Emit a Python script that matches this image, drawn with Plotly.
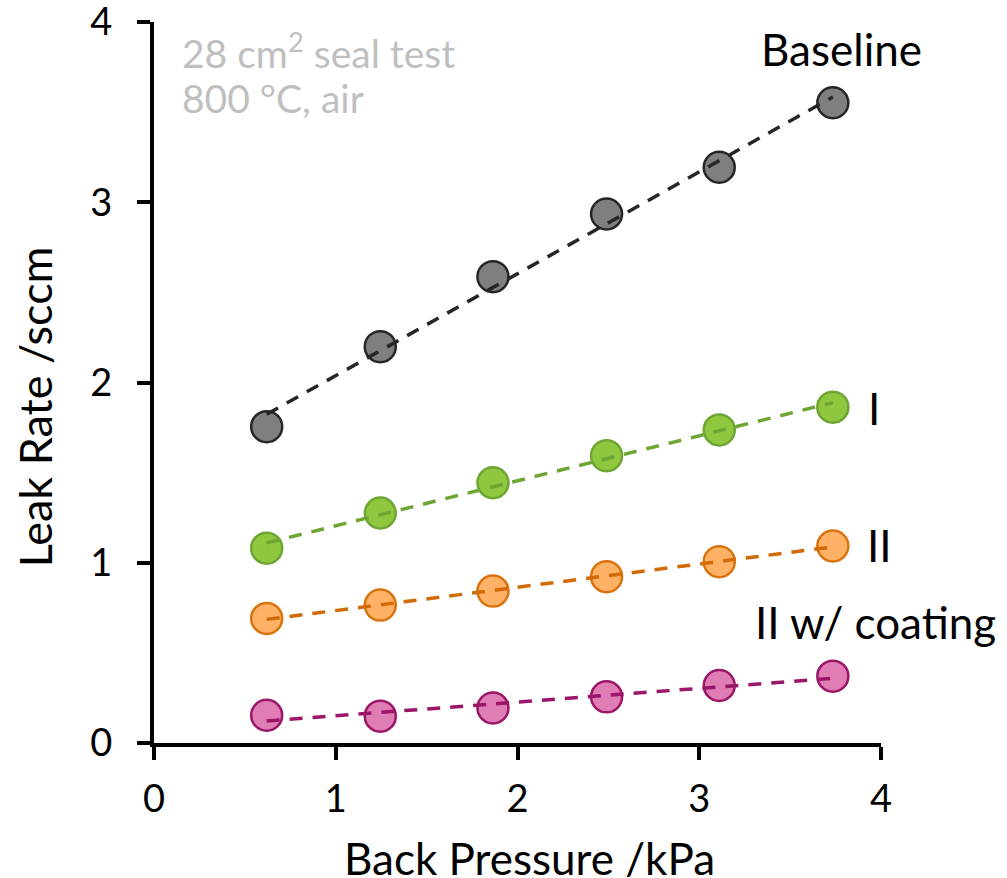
import numpy as np
import plotly.graph_objects as go

pressure = [0.62, 1.245, 1.865, 2.49, 3.11, 3.735]
baseline = [1.755, 2.199, 2.587, 2.935, 3.194, 3.552]
seal_i = [1.081, 1.276, 1.444, 1.594, 1.737, 1.863]
seal_ii = [0.691, 0.765, 0.843, 0.923, 1.006, 1.093]
seal_ii_coat = [0.154, 0.149, 0.194, 0.256, 0.319, 0.371]
ticks = [0, 1, 2, 3, 4]

series = [
    ("Baseline", baseline, "#7F7F7F", "#262626", "#262626"),
    ("I", seal_i, "#8FC73E", "#6EA533", "#6EA533"),
    ("II", seal_ii, "#FFB266", "#D9730D", "#D26A06"),
    ("II w/ coating", seal_ii_coat, "#E07DB5", "#9B1568", "#9B1568"),
]

FONT = "Lato"
fig = go.Figure()
for name, vals, fill, edge, trend in series:
    fig.add_trace(go.Scatter(
        x=pressure, y=vals, mode="markers", name=name,
        marker=dict(size=31, color=fill, line=dict(color=edge, width=2.5)),
        showlegend=False, cliponaxis=False))
for name, vals, fill, edge, trend in series:
    k, b = np.polyfit(pressure, vals, 1)
    xs = [pressure[0], pressure[-1]]
    fig.add_trace(go.Scatter(
        x=xs, y=[k * v + b for v in xs], mode="lines",
        line=dict(color=trend, width=3.5, dash="13px,10px"),
        showlegend=False, hoverinfo="skip"))

labels = [
    ("Baseline", 3.78, 3.85, "center"),
    ("I", 3.92, 1.86, "left"),
    ("II", 3.91, 1.10, "left"),
    ("II w/ coating", 3.97, 0.672, "center"),
]
for text, x, y, anchor in labels:
    fig.add_annotation(x=x, y=y, xref="x", yref="y", text=text, showarrow=False,
                       xanchor=anchor, yanchor="middle",
                       font=dict(family=FONT, size=44, color="black"))

notes = [("28 cm<sup>2</sup> seal test", 3.84), ("800 °C, air", 3.58)]
for text, y in notes:
    fig.add_annotation(x=0.143, y=y, xref="x", yref="y", text=text, showarrow=False,
                       xanchor="left", yanchor="middle",
                       font=dict(family=FONT, size=39, color="#BFBFBF"))

# axis titles
fig.add_annotation(x=0.517, y=-0.1595, xref="paper", yref="paper",
                   text="Back Pressure /kPa", showarrow=False,
                   xanchor="center", yanchor="middle",
                   font=dict(family=FONT, size=44, color="black"))
fig.add_annotation(x=-0.1637, y=0.467, xref="paper", yref="paper",
                   text="Leak Rate /sccm", showarrow=False, textangle=-90,
                   xanchor="center", yanchor="middle",
                   font=dict(family=FONT, size=45, color="black"))

axis_common = dict(
    range=[0, 4], tickmode="array", tickvals=ticks, ticktext=[str(t) for t in ticks],
    showgrid=False, zeroline=False, automargin=False, ticklabeloverflow="allow",
    showline=True, linecolor="black", linewidth=4,
    ticks="outside", ticklen=13, tickwidth=4, tickcolor="black",
    tickfont=dict(family=FONT, size=38, color="black"),
)
fig.update_xaxes(**axis_common, ticklabelstandoff=6)
fig.update_yaxes(**axis_common, ticklabelstandoff=17)

fig.update_layout(
    width=1007, height=878,
    margin=dict(l=154, r=126, t=22, b=135),
    plot_bgcolor="white", paper_bgcolor="white",
    font=dict(family=FONT),
)
fig.write_html("out.html", config={"displayModeBar": False},
               post_script="document.body.style.margin='0';")
